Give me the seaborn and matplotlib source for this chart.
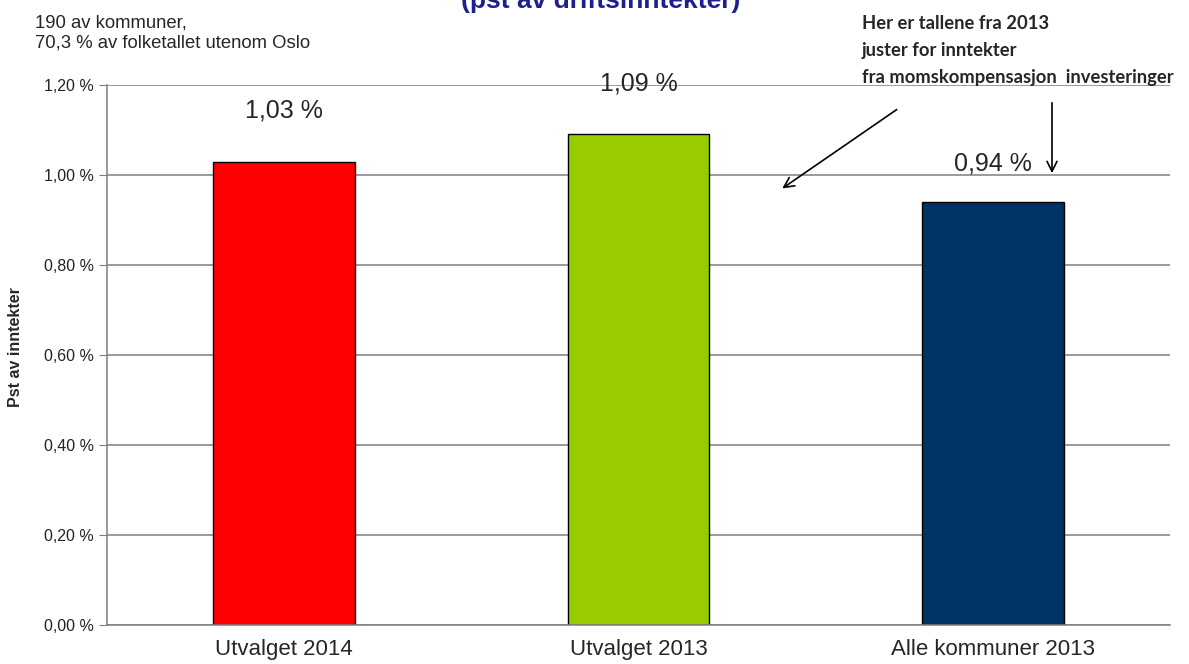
import matplotlib
matplotlib.use('Agg')
import matplotlib.pyplot as plt
import seaborn as sns
import pandas as pd

# Data
kategorier = ['Utvalget 2014', 'Utvalget 2013', 'Alle kommuner 2013']
verdier = [1.03, 1.09, 0.94]
farger = ['#FF0000', '#99CC00', '#003366']
y_ticks = [0.0, 0.2, 0.4, 0.6, 0.8, 1.0, 1.2]

sns.set_style('white')
plt.rcParams['font.family'] = ['Liberation Sans', 'DejaVu Sans']

df = pd.DataFrame({'kategori': kategorier, 'verdi': verdier})

fig = plt.figure(figsize=(11.89, 6.64), dpi=100)
ax = fig.add_axes([107 / 1189, 39 / 664, 1063 / 1189, 540 / 664])

sns.barplot(data=df, x='kategori', y='verdi', hue='kategori', palette=farger,
            saturation=1, width=0.4, edgecolor='black', linewidth=1.0,
            legend=False, ax=ax)

ax.set_ylim(0, 1.2)
ax.set_yticks(y_ticks)
ax.set_yticklabels([f'{t:.2f} %'.replace('.', ',') for t in y_ticks])
ax.yaxis.grid(True, color='#7f7f7f', linewidth=1.1)
ax.set_axisbelow(True)
for side in ['top', 'right']:
    ax.spines[side].set_visible(False)
ax.spines['left'].set_color('#7f7f7f')
ax.spines['bottom'].set_color('#7f7f7f')
ax.spines['left'].set_linewidth(1.1)
ax.spines['bottom'].set_linewidth(1.1)
ax.tick_params(axis='y', direction='out', length=6, color='#7f7f7f',
               labelsize=11.5, labelcolor='#222222', left=True)
ax.tick_params(axis='x', length=0, labelsize=16, pad=10)
ax.set_xlabel('')
ax.set_ylabel('Pst av inntekter', fontsize=11.5, fontweight='bold')
ax.yaxis.set_label_coords(-0.079, 0.515)

# Verdietiketter
for cont, pad in zip(ax.containers, [28, 28, 19]):
    ax.bar_label(cont, labels=[f'{v:.2f} %'.replace('.', ',') for v in cont.datavalues],
                 padding=pad, fontsize=18)

# Tekster
fig.text(0.505, 1 - 8 / 664, '(pst av driftsinntekter)', ha='center', va='baseline',
         fontsize=19, fontweight='bold', color='#1F1F8F')
fig.text(35 / 1189, 1 - 14 / 664, '190 av kommuner,\n70,3 % av folketallet utenom Oslo',
         ha='left', va='top', fontsize=13.3, linespacing=1.3)
fig.text(862 / 1189, 1 - 15 / 664,
         'Her er tallene fra 2013\njuster for inntekter\nfra momskompensasjon  investeringer',
         ha='left', va='top', fontsize=13.2, fontweight='bold', family=['Lato', 'DejaVu Sans'],
         linespacing=1.7)

# Piler
fig.add_artist(matplotlib.patches.FancyArrowPatch(
    (899 / 1189, 1 - 108 / 664), (780 / 1189, 1 - 190 / 664),
    transform=fig.transFigure, arrowstyle='->', mutation_scale=18, color='black', lw=1.2))
fig.add_artist(matplotlib.patches.FancyArrowPatch(
    (1052 / 1189, 1 - 100 / 664), (1052 / 1189, 1 - 176 / 664),
    transform=fig.transFigure, arrowstyle='->', mutation_scale=18, color='black', lw=1.2))

fig.savefig('out.png', dpi=100)
